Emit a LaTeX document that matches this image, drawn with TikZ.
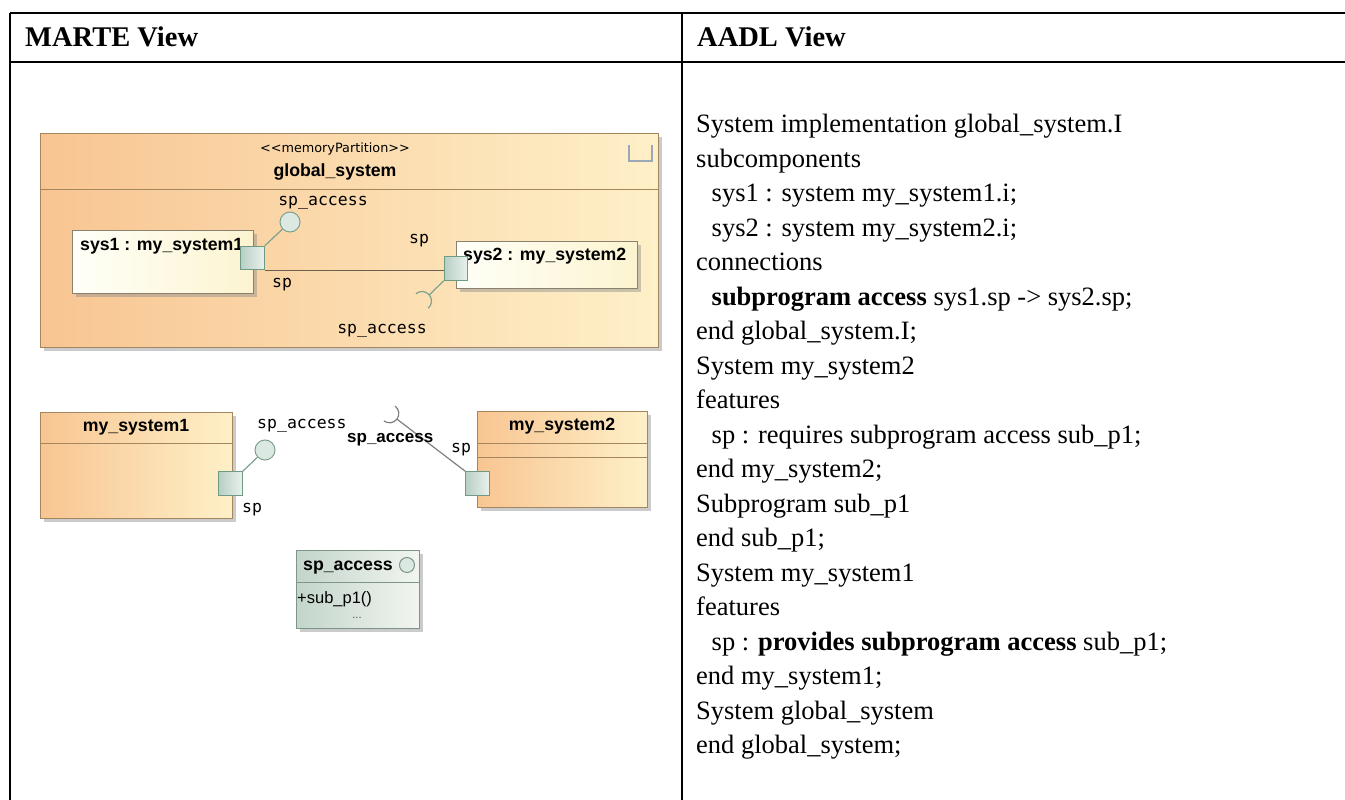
\documentclass[tikz,border=0pt]{standalone}
\usepackage{fontspec}
\setmainfont{Liberation Serif}
\newfontfamily\dsans{Liberation Sans}
\newfontfamily\dmono{DejaVu Sans Mono}
\newfontfamily\dvs{DejaVu Sans}
\usetikzlibrary{shadows,calc}
\definecolor{orL}{HTML}{F8C592}
\definecolor{orR}{HTML}{FEF0C8}
\definecolor{orBorder}{HTML}{A4865F}
\definecolor{yeL}{HTML}{FFFFF8}
\definecolor{yeR}{HTML}{FCF4D0}
\definecolor{yeBorder}{HTML}{8A8270}
\definecolor{ptL}{HTML}{B7CFC6}
\definecolor{ptR}{HTML}{EAF1EC}
\definecolor{ptBorder}{HTML}{6F9A83}
\definecolor{ifLine}{HTML}{7FA08F}
\definecolor{ifFill}{HTML}{DCE8E2}
\definecolor{grL}{HTML}{C3D5CA}
\definecolor{grR}{HTML}{F2F5F0}
\definecolor{grBorder}{HTML}{7D9688}
\definecolor{connCol}{HTML}{6E6050}
\definecolor{iconCol}{HTML}{9AA8B8}
\tikzset{
  tline/.style={line width=2pt, black},
  shadowed/.style={drop shadow={shadow xshift=3pt, shadow yshift=-3pt, fill=black!45, opacity=0.45}},
  boxo/.style={draw=orBorder, left color=orL, right color=orR, line width=1pt, inner sep=0pt, anchor=north west, shadowed},
  boxy/.style={draw=yeBorder, left color=yeL, right color=yeR, line width=1pt, inner sep=0pt, anchor=north west, shadowed},
  boxg/.style={draw=grBorder, left color=grL, right color=grR, line width=1pt, inner sep=0pt, anchor=north west, shadowed},
  portbox/.style={draw=ptBorder, left color=ptL, right color=ptR, line width=1pt, minimum size=23.5pt, inner sep=0pt},
  lolli/.style={circle, draw=ifLine, fill=ifFill, line width=1pt, minimum size=20pt, inner sep=0pt},
  ifl/.style={draw=ifLine, line width=1.2pt},
  ifgray/.style={draw=gray, line width=1.2pt},
  conn/.style={draw=connCol, line width=1.3pt},
  divo/.style={draw=orBorder, line width=1pt},
  divg/.style={draw=grBorder, line width=1pt},
  lbl/.style={font=\dmono\fontsize{16.5}{18}\selectfont, inner sep=0pt},
  blbl/.style={font=\dsans\bfseries\fontsize{17.7}{20}\selectfont, inner sep=0pt},
  code/.style={font=\fontsize{26.5}{34.5}\selectfont, inner sep=0pt, anchor=base west},
  head/.style={font=\bfseries\fontsize{28.5}{32}\selectfont, inner sep=0pt, anchor=base west}
}
\begin{document}
\begin{tikzpicture}[x=1pt,y=-1pt]
\useasboundingbox (0,0) rectangle (1345,800);
\fill[white] (0,0) rectangle (1345,800);

% table
\coordinate (tl) at (10,13.5);
\coordinate (tr) at (1345,13.5);
\coordinate (hl) at (10,62.5);
\coordinate (hr) at (1345,62.5);
\coordinate (bl) at (10,800);
\coordinate (ct) at (682,13.5);
\coordinate (cb) at (682,800);
\draw[tline] (tl) -- (tr);
\draw[tline] (hl) -- (hr);
\draw[tline] (tl) -- (bl);
\draw[tline] (ct) -- (cb);
\node[head] (h1) at (25,47) {MARTE View};
\node[head] (h2) at (697,47) {AADL View};

% ---------- global_system ----------
\node[boxo, minimum width=618pt, minimum height=214pt] (gs) at (40,133) {};
\draw[divo] ([yshift=-56pt]gs.north west) -- ([yshift=-56pt]gs.north east);
\node[font=\dvs\fontsize{12.8}{14}\selectfont, inner sep=0pt, anchor=base] (st) at (335,152) {<\kern0pt<memoryPartition>\kern0pt>};
\node[blbl, anchor=base] (gsn) at (335,176) {global\_system};
\coordinate (u1) at (629,145);
\coordinate (u2) at (629,161);
\coordinate (u3) at (652,161);
\coordinate (u4) at (652,145);
\draw[iconCol, line width=1.6pt] (u1) -- (u2) -- (u3) -- (u4);

\node[boxy, minimum width=181pt, minimum height=63pt] (sys1) at (72,230) {};
\node[blbl, anchor=base west] (sys1n) at (80,250) {sys1 : my\_system1};
\node[boxy, minimum width=181pt, minimum height=47pt] (sys2) at (456,241) {};

\node[portbox] (p1) at (252.5,258) {};
\node[portbox] (p2) at (456,268.5) {};
\draw[conn] (p1.south east) -- (p1.south east -| p2.west);
\node[blbl, anchor=base west] (sys2n) at (463,260) {sys2 : my\_system2};
\node[portbox] (p2b) at (456,268.5) {};

\node[lolli] (c1) at (290,222) {};
\draw[ifl] (p1.north east) -- (c1);
\coordinate (s1) at (422,301);
\draw[ifl] (p2b.south west) -- ($(s1)+(40:9.5pt)$);
\draw[ifl] ($(s1)+(-50:9.5pt)$) arc[start angle=-50, end angle=130, radius=9.5pt];

\node[lbl, anchor=base] (l1) at (323,205) {sp\_access};
\node[lbl, anchor=base west] (l2) at (272,287) {sp};
\node[lbl, anchor=base] (l3) at (419,243) {sp};
\node[lbl, anchor=base] (l4) at (382,333) {sp\_access};

% ---------- my_system1 / my_system2 ----------
\node[boxo, minimum width=192pt, minimum height=106pt] (ms1) at (40,412) {};
\draw[divo] ([yshift=-31pt]ms1.north west) -- ([yshift=-31pt]ms1.north east);
\node[blbl, anchor=base] (ms1n) at (136,431) {my\_system1};
\node[portbox] (p3) at (230.5,483.5) {};
\node[lolli] (c2) at (265,450) {};
\draw[ifl] (p3.north east) -- (c2);
\node[lbl, anchor=base west] (l5) at (257,428) {sp\_access};
\node[lbl, anchor=base west] (l6) at (242,512) {sp};

\node[boxo, minimum width=170pt, minimum height=96pt] (ms2) at (477,411) {};
\draw[divo] ([yshift=-32pt]ms2.north west) -- ([yshift=-32pt]ms2.north east);
\draw[divo] ([yshift=-46pt]ms2.north west) -- ([yshift=-46pt]ms2.north east);
\node[blbl, anchor=base] (ms2n) at (562,430) {my\_system2};
\node[portbox] (p4) at (477.5,483.5) {};
\coordinate (s2) at (389.5,413.5);
\draw[ifgray] (p4.north west) -- ($(s2)+(-37:9.3pt)$);
\draw[ifgray] ($(s2)+(-127:9.3pt)$) arc[start angle=-127, end angle=53, radius=9.3pt];
\node[blbl, anchor=base west, font=\dsans\bfseries\fontsize{17}{20}\selectfont] (l7) at (347,442) {sp\_access};
\node[lbl, anchor=base] (l8) at (461,452) {sp};

% ---------- interface ----------
\node[boxg, minimum width=123pt, minimum height=78pt] (ifc) at (296,550) {};
\draw[divg] ([yshift=-32pt]ifc.north west) -- ([yshift=-32pt]ifc.north east);
\node[blbl, anchor=base west] (ifn) at (303,570) {sp\_access};
\node[circle, draw=grBorder, fill=ifFill, line width=1pt, minimum size=15pt, inner sep=0pt] (ic) at (407,565) {};
\node[font=\dsans\fontsize{16.5}{18}\selectfont, inner sep=0pt, anchor=base west] (op) at (297,603) {+sub\_p1()};
\node[font=\dsans\fontsize{11}{12}\selectfont, inner sep=0pt, anchor=base, text=black!70] (dots) at (357,618) {...};

% ---------- AADL text ----------
\node[code] (a0) at (696,132.5) {System implementation global\_system.I};
\node[code] (a1) at (696,167) {subcomponents};
\node[code] (a2) at (711.5,201.5) {sys1 : system my\_system1.i;};
\node[code] (a3) at (711.5,236) {sys2 : system my\_system2.i;};
\node[code] (a4) at (696,270.5) {connections};
\node[code] (a5) at (711.5,305) {\textbf{subprogram access} sys1.sp -> sys2.sp;};
\node[code] (a6) at (696,339.5) {end global\_system.I;};
\node[code] (a7) at (696,374) {System my\_system2};
\node[code] (a8) at (696,408.5) {features};
\node[code] (a9) at (711.5,443) {sp : requires subprogram access sub\_p1;};
\node[code] (a10) at (696,477.5) {end my\_system2;};
\node[code] (a11) at (696,512) {Subprogram sub\_p1};
\node[code] (a12) at (696,546.5) {end sub\_p1;};
\node[code] (a13) at (696,581) {System my\_system1};
\node[code] (a14) at (696,615.5) {features};
\node[code] (a15) at (711.5,650) {sp : \textbf{provides subprogram access} sub\_p1;};
\node[code] (a16) at (696,684.5) {end my\_system1;};
\node[code] (a17) at (696,719) {System global\_system};
\node[code] (a18) at (696,753.5) {end global\_system;};
\end{tikzpicture}
\end{document}
